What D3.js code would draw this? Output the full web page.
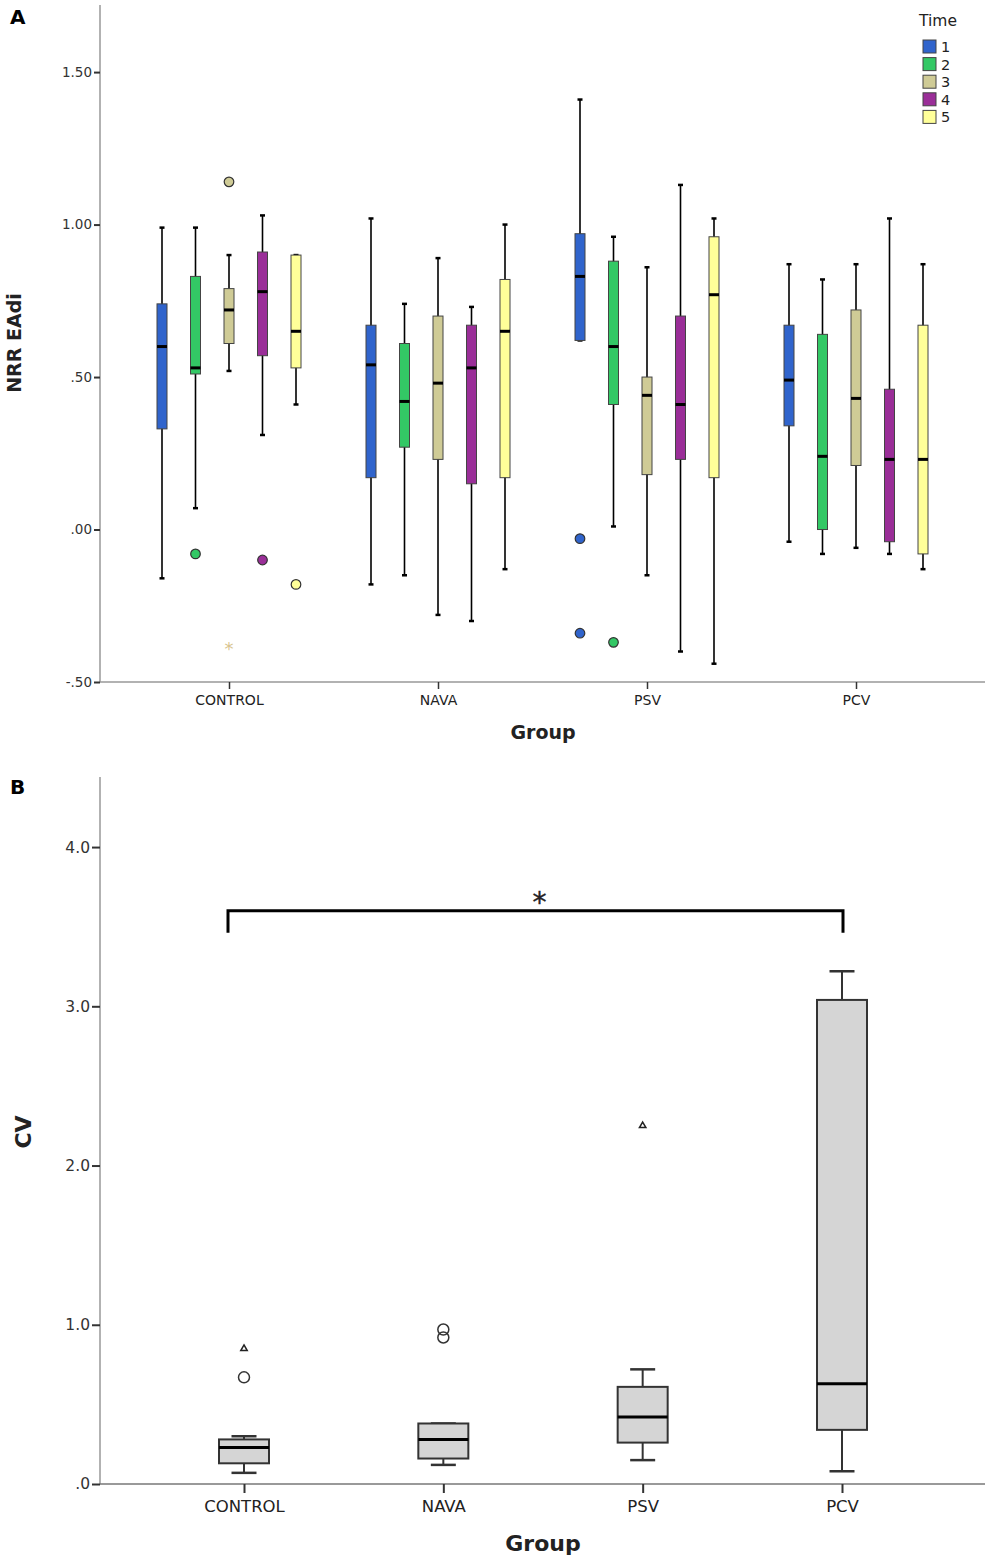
<!DOCTYPE html>
<html>
<head>
<meta charset="utf-8">
<script src="https://cdn.jsdelivr.net/npm/d3@7"></script>
<style>
  html, body { margin: 0; padding: 0; background: #fff; }
  svg { display: block; }
  text { font-family: "DejaVu Sans", sans-serif; }
</style>
</head>
<body>
<svg id="chart" width="992" height="1562"></svg>
<script>
// ---------------- DATA ----------------
const groups = ["CONTROL", "NAVA", "PSV", "PCV"];
const times = ["1", "2", "3", "4", "5"];
const timeColors = ["#3064CC", "#33C865", "#CFCB96", "#9A2E98", "#FFFF99"];

// Panel A: NRR EAdi, per group (rows) and time (columns)
const aWhiskerHigh = [
  [0.99, 0.99, 0.90, 1.03, 0.90],
  [1.02, 0.74, 0.89, 0.73, 1.00],
  [1.41, 0.96, 0.86, 1.13, 1.02],
  [0.87, 0.82, 0.87, 1.02, 0.87]
];
const aQ3 = [
  [0.74, 0.83, 0.79, 0.91, 0.90],
  [0.67, 0.61, 0.70, 0.67, 0.82],
  [0.97, 0.88, 0.50, 0.70, 0.96],
  [0.67, 0.64, 0.72, 0.46, 0.67]
];
const aMedian = [
  [0.60, 0.53, 0.72, 0.78, 0.65],
  [0.54, 0.42, 0.48, 0.53, 0.65],
  [0.83, 0.60, 0.44, 0.41, 0.77],
  [0.49, 0.24, 0.43, 0.23, 0.23]
];
const aQ1 = [
  [0.33, 0.51, 0.61, 0.57, 0.53],
  [0.17, 0.27, 0.23, 0.15, 0.17],
  [0.62, 0.41, 0.18, 0.23, 0.17],
  [0.34, 0.00, 0.21, -0.04, -0.08]
];
const aWhiskerLow = [
  [-0.16, 0.07, 0.52, 0.31, 0.41],
  [-0.18, -0.15, -0.28, -0.30, -0.13],
  [0.62, 0.01, -0.15, -0.40, -0.44],
  [-0.04, -0.08, -0.06, -0.08, -0.13]
];
// [groupIndex, timeIndex, value, kind]  kind: "o" outlier, "*" extreme
const aOutliers = [
  [0, 1, -0.08, "o"],
  [0, 2, 1.14, "o"],
  [0, 2, -0.38, "*"],
  [0, 3, -0.10, "o"],
  [0, 4, -0.18, "o"],
  [2, 0, -0.03, "o"],
  [2, 0, -0.34, "o"],
  [2, 1, -0.37, "o"]
];
const aTicks = [-0.5, 0, 0.5, 1.0, 1.5];
const aTickLabels = ["-.50", ".00", ".50", "1.00", "1.50"];

// Panel B: CV per group
const bWhiskerHigh = [0.30, 0.38, 0.72, 3.22];
const bQ3 = [0.28, 0.38, 0.61, 3.04];
const bMedian = [0.23, 0.28, 0.42, 0.63];
const bQ1 = [0.13, 0.16, 0.26, 0.34];
const bWhiskerLow = [0.07, 0.12, 0.15, 0.08];
// [groupIndex, value, kind]  kind: "o" circle, "^" triangle
const bOutliers = [
  [0, 0.67, "o"],
  [0, 0.85, "^"],
  [1, 0.97, "o"],
  [1, 0.92, "o"],
  [2, 2.25, "^"]
];
const bTicks = [0, 1, 2, 3, 4];
const bTickLabels = [".0", "1.0", "2.0", "3.0", "4.0"];
const bSignificance = { from: 0, to: 3, y: 3.6, label: "*" };

// ---------------- DRAW ----------------
const svg = d3.select("#chart");

// ===== Panel A =====
const A = { left: 100, right: 985, top: 5, bottom: 682 };
const yA = d3.scaleLinear().domain([-0.5, 1.72]).range([A.bottom, A.top]);
const xA = d3.scalePoint().domain(groups).range([229, 856]);
const xTime = d3.scalePoint().domain(times).range([-67, 67]);
const gA = svg.append("g");

// axes
gA.append("line").attr("x1", A.left).attr("x2", A.left).attr("y1", A.top).attr("y2", A.bottom)
  .attr("stroke", "#999").attr("stroke-width", 1.5);
gA.append("line").attr("x1", A.left).attr("x2", A.right).attr("y1", A.bottom).attr("y2", A.bottom)
  .attr("stroke", "#999").attr("stroke-width", 1.5);

const yAxisA = d3.axisLeft(yA).tickValues(aTicks).tickSize(6)
  .tickFormat((d, i) => aTickLabels[i]);
const yAxA = gA.append("g").attr("transform", `translate(${A.left},0)`).call(yAxisA);
yAxA.select(".domain").remove();
yAxA.selectAll(".tick line").attr("stroke", "#333").attr("stroke-width", 2);
yAxA.selectAll(".tick text").attr("font-size", 13.5).attr("fill", "#333")
  .attr("font-family", "DejaVu Sans").attr("x", -8);

const xAxisA = d3.axisBottom(xA).tickSize(7).tickSizeOuter(0);
const xAxA = gA.append("g").attr("transform", `translate(0,${A.bottom})`).call(xAxisA);
xAxA.select(".domain").remove();
xAxA.selectAll(".tick line").attr("stroke", "#333").attr("stroke-width", 1.5);
xAxA.selectAll(".tick text").attr("font-size", 14).attr("fill", "#222")
  .attr("font-family", "DejaVu Sans").attr("dy", "0.85em").attr("y", 11);

// boxes
const boxW = 10;
groups.forEach((g, gi) => {
  times.forEach((t, ti) => {
    const cx = xA(g) + xTime(t);
    const hi = aWhiskerHigh[gi][ti], lo = aWhiskerLow[gi][ti];
    const q1 = aQ1[gi][ti], q3 = aQ3[gi][ti], md = aMedian[gi][ti];
    gA.append("line").attr("x1", cx).attr("x2", cx).attr("y1", yA(hi)).attr("y2", yA(lo))
      .attr("stroke", "#000").attr("stroke-width", 1.6);
    [hi, lo].forEach(v => {
      gA.append("line").attr("x1", cx - 2.5).attr("x2", cx + 2.5).attr("y1", yA(v)).attr("y2", yA(v))
        .attr("stroke", "#000").attr("stroke-width", 2.5);
    });
    gA.append("rect").attr("x", cx - boxW / 2).attr("width", boxW)
      .attr("y", yA(q3)).attr("height", yA(q1) - yA(q3))
      .attr("fill", timeColors[ti]).attr("stroke", "#444").attr("stroke-width", 1);
    gA.append("line").attr("x1", cx - boxW / 2).attr("x2", cx + boxW / 2).attr("y1", yA(md)).attr("y2", yA(md))
      .attr("stroke", "#000").attr("stroke-width", 3);
  });
});

aOutliers.forEach(([gi, ti, v, kind]) => {
  const cx = xA(groups[gi]) + xTime(times[ti]);
  if (kind === "o") {
    gA.append("circle").attr("cx", cx).attr("cy", yA(v)).attr("r", 4.8)
      .attr("fill", timeColors[ti]).attr("stroke", "#333").attr("stroke-width", 1.2);
  } else {
    gA.append("text").attr("x", cx).attr("y", yA(v) + 10).attr("text-anchor", "middle")
      .attr("font-size", 18).attr("fill", "#d8c48e").text("*");
  }
});

// legend
const legA = gA.append("g");
legA.append("text").attr("x", 938).attr("y", 26).attr("text-anchor", "middle")
  .attr("font-size", 15.5).attr("fill", "#222").text("Time");
times.forEach((t, i) => {
  const yy = 40 + i * 17.6;
  legA.append("rect").attr("x", 923).attr("y", yy).attr("width", 13).attr("height", 13)
    .attr("fill", timeColors[i]).attr("stroke", "#444").attr("stroke-width", 1);
  legA.append("text").attr("x", 941).attr("y", yy + 12).attr("font-size", 14.5)
    .attr("fill", "#222").text(t);
});

// titles
gA.append("text").attr("x", 543).attr("y", 739).attr("text-anchor", "middle")
  .attr("font-size", 19).attr("font-weight", "bold").attr("fill", "#222").text("Group");
gA.append("text").attr("transform", "translate(21,343) rotate(-90)").attr("text-anchor", "middle")
  .attr("font-size", 19).attr("font-weight", "bold").attr("fill", "#222").text("NRR EAdi");
gA.append("text").attr("x", 10).attr("y", 24).attr("font-family", "Liberation Sans, Arial, sans-serif")
  .attr("font-size", 20).attr("font-weight", "bold").attr("fill", "#000").text("A");

// ===== Panel B =====
const B = { left: 100, right: 985, top: 777, bottom: 1484 };
const yB = d3.scaleLinear().domain([0, 4.44]).range([B.bottom, B.top]);
const xB = d3.scalePoint().domain(groups).range([244, 842]);
const gB = svg.append("g");

gB.append("line").attr("x1", B.left).attr("x2", B.left).attr("y1", B.top).attr("y2", B.bottom)
  .attr("stroke", "#999").attr("stroke-width", 1.5);
gB.append("line").attr("x1", B.left).attr("x2", B.right).attr("y1", B.bottom).attr("y2", B.bottom)
  .attr("stroke", "#777").attr("stroke-width", 1.5);

const yAxisB = d3.axisLeft(yB).tickValues(bTicks).tickSize(8)
  .tickFormat((d, i) => bTickLabels[i]);
const yAxB = gB.append("g").attr("transform", `translate(${B.left},0)`).call(yAxisB);
yAxB.select(".domain").remove();
yAxB.selectAll(".tick line").attr("stroke", "#333").attr("stroke-width", 2);
yAxB.selectAll(".tick text").attr("font-size", 15.5).attr("fill", "#333")
  .attr("font-family", "DejaVu Sans").attr("x", -10);

const xAxisB = d3.axisBottom(xB).tickSize(9).tickSizeOuter(0);
const xAxB = gB.append("g").attr("transform", `translate(0,${B.bottom})`).call(xAxisB);
xAxB.select(".domain").remove();
xAxB.selectAll(".tick line").attr("stroke", "#333").attr("stroke-width", 2);
xAxB.selectAll(".tick text").attr("font-size", 16.5).attr("fill", "#222")
  .attr("font-family", "DejaVu Sans").attr("dy", "0.85em").attr("y", 14);

const boxWB = 50, capWB = 25;
groups.forEach((g, gi) => {
  const cx = xB(g);
  gB.append("line").attr("x1", cx).attr("x2", cx).attr("y1", yB(bWhiskerHigh[gi])).attr("y2", yB(bWhiskerLow[gi]))
    .attr("stroke", "#333").attr("stroke-width", 2);
  [bWhiskerHigh[gi], bWhiskerLow[gi]].forEach(v => {
    gB.append("line").attr("x1", cx - capWB / 2).attr("x2", cx + capWB / 2).attr("y1", yB(v)).attr("y2", yB(v))
      .attr("stroke", "#333").attr("stroke-width", 2.5);
  });
  gB.append("rect").attr("x", cx - boxWB / 2).attr("width", boxWB)
    .attr("y", yB(bQ3[gi])).attr("height", yB(bQ1[gi]) - yB(bQ3[gi]))
    .attr("fill", "#d5d5d5").attr("stroke", "#333").attr("stroke-width", 2);
  gB.append("line").attr("x1", cx - boxWB / 2).attr("x2", cx + boxWB / 2).attr("y1", yB(bMedian[gi])).attr("y2", yB(bMedian[gi]))
    .attr("stroke", "#000").attr("stroke-width", 3);
});

bOutliers.forEach(([gi, v, kind]) => {
  const cx = xB(groups[gi]);
  if (kind === "o") {
    gB.append("circle").attr("cx", cx).attr("cy", yB(v)).attr("r", 5.5)
      .attr("fill", "none").attr("stroke", "#333").attr("stroke-width", 1.5);
  } else {
    const sym = d3.symbol().type(d3.symbolTriangle).size(18);
    gB.append("path").attr("d", sym()).attr("transform", `translate(${cx},${yB(v)})`)
      .attr("fill", "#fff").attr("stroke", "#222").attr("stroke-width", 1.5);
  }
});

// significance bracket
const bx1 = xB(groups[bSignificance.from]) - 16, bx2 = xB(groups[bSignificance.to]) + 1;
const by = yB(bSignificance.y);
gB.append("path")
  .attr("d", `M${bx1},${by + 22} V${by} H${bx2} V${by + 22}`)
  .attr("fill", "none").attr("stroke", "#000").attr("stroke-width", 3);
gB.append("text").attr("x", (bx1 + bx2) / 2 + 4).attr("y", by + 1).attr("text-anchor", "middle")
  .attr("font-size", 28).attr("fill", "#222").attr("stroke", "#222").attr("stroke-width", 0.4)
  .text(bSignificance.label);

// titles
gB.append("text").attr("x", 543).attr("y", 1551).attr("text-anchor", "middle")
  .attr("font-size", 22).attr("font-weight", "bold").attr("fill", "#222").text("Group");
gB.append("text").attr("transform", "translate(31,1132) rotate(-90)").attr("text-anchor", "middle")
  .attr("font-size", 22).attr("font-weight", "bold").attr("fill", "#222").text("CV");
gB.append("text").attr("x", 10).attr("y", 794).attr("font-family", "Liberation Sans, Arial, sans-serif")
  .attr("font-size", 20).attr("font-weight", "bold").attr("fill", "#000").text("B");
</script>
</body>
</html>
